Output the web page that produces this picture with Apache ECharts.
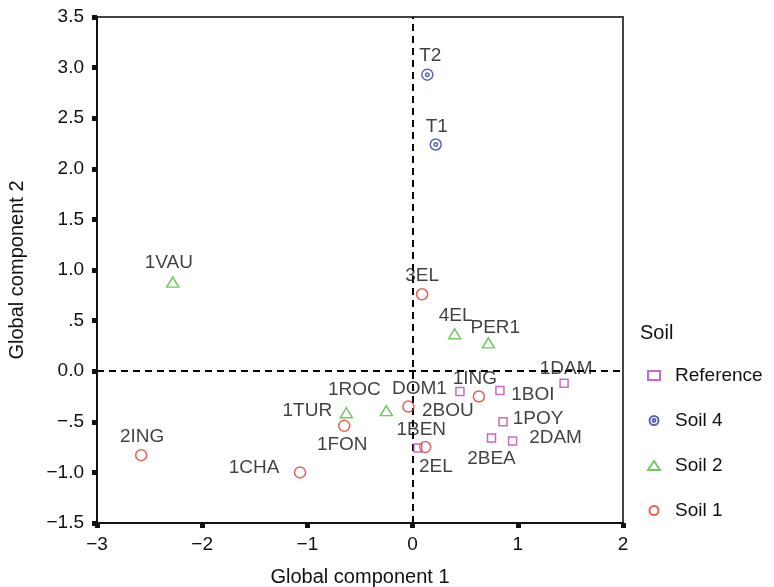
<!DOCTYPE html>
<html>
<head>
<meta charset="utf-8">
<script src="https://cdn.jsdelivr.net/npm/echarts@6/dist/echarts.min.js"></script>
<style>
html,body{margin:0;padding:0;background:#fff;}
#chart{width:774px;height:587px;}
</style>
</head>
<body>
<div id="chart"></div>
<script>
// ---- Data ----
const refNames = ['1ING', '1BOI', '1DAM', '1POY', '2BEA', '2DAM', '2EL'];
const refX = [0.45, 0.83, 1.44, 0.86, 0.75, 0.95, 0.05];
const refY = [-0.20, -0.19, -0.12, -0.50, -0.66, -0.69, -0.76];

const soil4Names = ['T2', 'T1'];
const soil4X = [0.14, 0.22];
const soil4Y = [2.93, 2.24];

const soil2Names = ['1VAU', '4EL', 'PER1', '1TUR', '1ROC'];
const soil2X = [-2.28, 0.40, 0.72, -0.63, -0.25];
const soil2Y = [0.88, 0.37, 0.28, -0.41, -0.39];

const soil1Names = ['3EL', '2ING', '1CHA', '1FON', 'DOM1', '2BOU', '1BEN'];
const soil1X = [0.09, -2.58, -1.07, -0.65, -0.04, 0.63, 0.12];
const soil1Y = [0.76, -0.83, -1.00, -0.54, -0.35, -0.25, -0.75];

const xTicks = [-3, -2, -1, 0, 1, 2];
const xTickLabels = ['\u22123', '\u22122', '\u22121', '0', '1', '2'];
const yTicks = [-1.5, -1.0, -0.5, 0, 0.5, 1.0, 1.5, 2.0, 2.5, 3.0, 3.5];
const yTickLabels = ['\u22121.5', '\u22121.0', '\u2212.5', '0.0', '.5', '1.0', '1.5', '2.0', '2.5', '3.0', '3.5'];

// ---- Label placement (pixel offsets of label centre from marker centre) ----
const labelOffsets = {
  'T2': [3, -19], 'T1': [1, -18], '1VAU': [-4, -19], '3EL': [0, -19], '4EL': [1, -18],
  'PER1': [7, -15], '1DAM': [2, -15], '1ING': [15, -13], '1BOI': [33, 4], '1POY': [35, -3],
  '2DAM': [43, -3], '2BEA': [0, 21], '2EL': [18, 19], '1BEN': [-4, -17], '2BOU': [-31, 14],
  'DOM1': [11, -18], '1ROC': [-32, -21], '1TUR': [-39, -2], '1FON': [-2, 19], '1CHA': [-46, -5],
  '2ING': [1, -18]
};

const FONT = 'Liberation Sans, Arial, Helvetica, sans-serif';
const TXT = '#111';

function build(names, xs, ys) {
  return names.map((n, i) => ({
    name: n,
    value: [xs[i], ys[i]],
    label: { offset: labelOffsets[n] || [0, -16] }
  }));
}

const bullseye = 'path://M0,-10A10,10 0 1,1 0,10A10,10 0 1,1 0,-10ZM0,-3.2A3.2,3.2 0 1,1 0,3.2A3.2,3.2 0 1,1 0,-3.2Z';

const baseLabel = {
  show: true,
  position: 'inside',
  formatter: p => p.name,
  color: TXT,
  textBorderWidth: 0,
  textBorderColor: 'transparent',
  fontSize: 19,
  fontFamily: FONT
};

const chart = echarts.init(document.getElementById('chart'), null, { renderer: 'canvas' });
chart.setOption({
  animation: false,
  backgroundColor: '#fff',
  textStyle: { fontFamily: FONT },
  title: {
    text: 'Soil',
    left: 640,
    top: 323,
    padding: 0,
    textStyle: { fontSize: 20, fontWeight: 'normal', color: TXT, fontFamily: FONT }
  },
  legend: {
    orient: 'vertical',
    left: 647,
    top: 366,
    padding: 0,
    itemGap: 26,
    itemWidth: 12,
    itemHeight: 9,
    textStyle: { fontSize: 19, color: TXT, fontFamily: FONT, padding: [0, 0, 0, 10] },
    data: ['Reference', 'Soil 4', 'Soil 2', 'Soil 1']
  },
  grid: {
    left: 97, top: 17, right: 151, bottom: 64,
    outerBoundsMode: 'none',
    containLabel: false,
    show: true, borderColor: '#444', borderWidth: 2, backgroundColor: 'transparent'
  },
  xAxis: {
    type: 'value',
    min: -3, max: 2, interval: 1,
    name: 'Global component 1',
    nameLocation: 'middle',
    nameGap: 44,
    nameTextStyle: { fontSize: 20, color: TXT, fontFamily: FONT },
    axisLine: { show: true, onZero: false, lineStyle: { color: '#111', width: 2 } },
    axisTick: { show: true, length: 5, lineStyle: { color: '#111', width: 5 } },
    axisLabel: {
      fontSize: 19, color: TXT, margin: 12, fontFamily: FONT,
      formatter: v => { const i = xTicks.findIndex(t => Math.abs(t - v) < 1e-9); return i >= 0 ? xTickLabels[i] : ''; }
    },
    splitLine: { show: false }
  },
  yAxis: {
    type: 'value',
    min: -1.5, max: 3.5, interval: 0.5,
    name: 'Global component 2',
    nameLocation: 'middle',
    nameGap: 70,
    nameRotate: 90,
    nameTextStyle: { fontSize: 20, color: TXT, fontFamily: FONT },
    axisLine: { show: true, onZero: false, lineStyle: { color: '#111', width: 2 } },
    axisTick: { show: true, length: 5, lineStyle: { color: '#111', width: 5 } },
    axisLabel: {
      fontSize: 19, color: TXT, margin: 13, fontFamily: FONT,
      formatter: v => { const i = yTicks.findIndex(t => Math.abs(t - v) < 1e-9); return i >= 0 ? yTickLabels[i] : ''; }
    },
    splitLine: { show: false }
  },
  series: [
    {
      name: 'Reference',
      type: 'scatter',
      symbol: 'rect',
      symbolSize: 8,
      symbolKeepAspect: true,
      itemStyle: { color: 'rgba(255,255,255,0)', borderColor: '#bb44bb', borderWidth: 1.5 },
      label: baseLabel,
      data: build(refNames, refX, refY),
      z: 3,
      markLine: {
        silent: true,
        symbol: 'none',
        label: { show: false },
        lineStyle: { color: '#000', type: [7, 5], width: 2 },
        data: [{ xAxis: 0 }, { yAxis: 0 }],
        z: 1
      }
    },
    {
      name: 'Soil 4',
      type: 'scatter',
      symbol: bullseye,
      symbolSize: 11,
      symbolKeepAspect: true,
      itemStyle: { color: 'rgba(255,255,255,0)', borderColor: '#2f3fa8', borderWidth: 1.5 },
      label: baseLabel,
      data: build(soil4Names, soil4X, soil4Y),
      z: 3
    },
    {
      name: 'Soil 2',
      type: 'scatter',
      symbol: 'triangle',
      symbolSize: [12, 10],
      symbolKeepAspect: true,
      itemStyle: { color: 'rgba(255,255,255,0)', borderColor: '#4cbf3a', borderWidth: 1.5 },
      label: baseLabel,
      data: build(soil2Names, soil2X, soil2Y),
      z: 3
    },
    {
      name: 'Soil 1',
      type: 'scatter',
      symbol: 'circle',
      symbolSize: 11,
      symbolKeepAspect: true,
      itemStyle: { color: 'rgba(255,255,255,0)', borderColor: '#e23a2a', borderWidth: 1.5 },
      label: baseLabel,
      data: build(soil1Names, soil1X, soil1Y),
      z: 3
    }
  ]
});
</script>
</body>
</html>
